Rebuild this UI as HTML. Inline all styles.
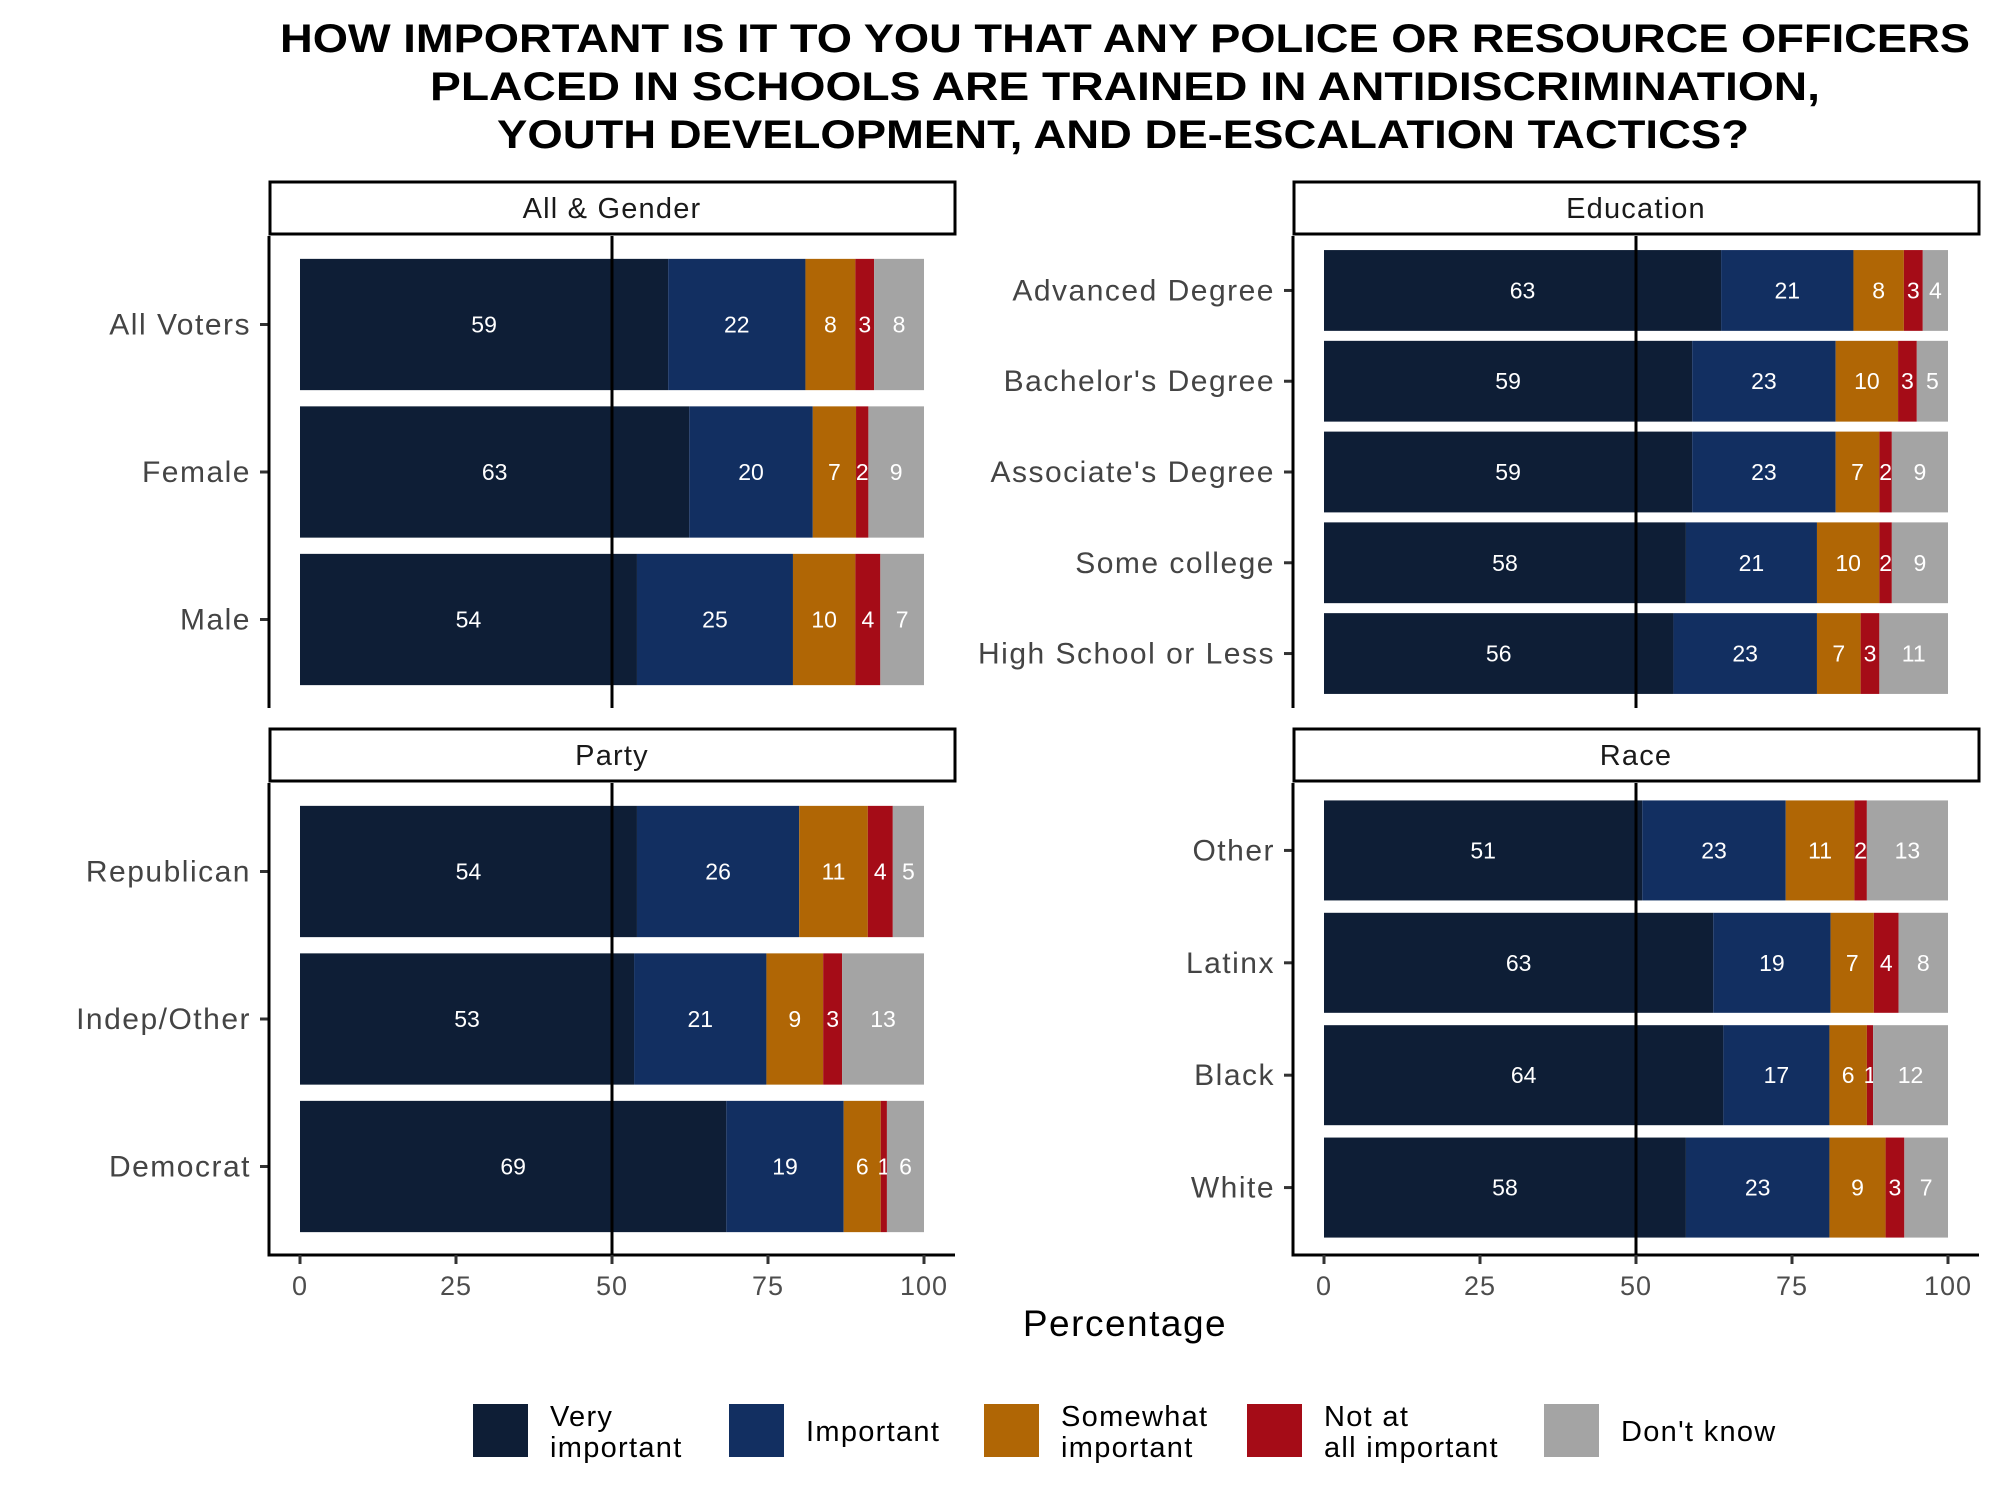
<!DOCTYPE html>
<html><head><meta charset="utf-8"><style>
html,body{margin:0;padding:0;background:#fff;}
svg{display:block;font-family:"Liberation Sans",sans-serif;}
</style></head><body>
<svg id="chart" width="1999" height="1500" viewBox="0 0 1999 1500" xmlns="http://www.w3.org/2000/svg">
<g font-weight="bold" font-size="40" text-anchor="middle" fill="#000">
<text x="1125" y="52" textLength="1690" lengthAdjust="spacingAndGlyphs">HOW IMPORTANT IS IT TO YOU THAT ANY POLICE OR RESOURCE OFFICERS</text>
<text x="1125" y="100" textLength="1390" lengthAdjust="spacingAndGlyphs">PLACED IN SCHOOLS ARE TRAINED IN ANTIDISCRIMINATION,</text>
<text x="1123" y="148" textLength="1252" lengthAdjust="spacingAndGlyphs">YOUTH DEVELOPMENT, AND DE-ESCALATION TACTICS?</text>
</g>
<g id="panels"></g>
<text x="1125" y="1336" font-size="37" letter-spacing="1.5" text-anchor="middle" fill="#000">Percentage</text>
<g id="legend"></g>
</svg>
<script>
const colors = ["#0e1e36","#122f61","#b06605","#a50c17","#a4a4a4"];
const legendLabels = [["Very","important"],["Important"],["Somewhat","important"],["Not at","all important"],["Don't know"]];
const ticks = [0,25,50,75,100];

const genderCats = ["All Voters","Female","Male"];
const genderVals = [[59,22,8,3,8],[63,20,7,2,9],[54,25,10,4,7]];
const partyCats = ["Republican","Indep/Other","Democrat"];
const partyVals = [[54,26,11,4,5],[53,21,9,3,13],[69,19,6,1,6]];
const eduCats = ["Advanced Degree","Bachelor's Degree","Associate's Degree","Some college","High School or Less"];
const eduVals = [[63,21,8,3,4],[59,23,10,3,5],[59,23,7,2,9],[58,21,10,2,9],[56,23,7,3,11]];
const raceCats = ["Other","Latinx","Black","White"];
const raceVals = [[51,23,11,2,13],[63,19,7,4,8],[64,17,6,1,12],[58,23,9,3,7]];

const NS="http://www.w3.org/2000/svg";
function mk(tag, attrs, parent){const e=document.createElementNS(NS,tag);for(const k in attrs)e.setAttribute(k,attrs[k]);parent.appendChild(e);return e;}
const panelsG=document.getElementById('panels');

function panel(title, cats, vals, left, top, bottom, showX){
  const axisX = left, x0 = left+31, x100 = left+655, right = left+686;
  const sx = v => x0 + (x100-x0)*v/100;
  const g = mk('g',{},panelsG);
  
  
  const stripTop = top-54;
  const strip = mk('rect',{x:axisX+1,y:stripTop,width:685,height:52,fill:'#fff',stroke:'#000','stroke-width':3},g);
  
  
  const st = mk('text',{x:axisX+343,y:stripTop+36,'font-size':29,'letter-spacing':1.2,'text-anchor':'middle',fill:'#1a1a1a'},g);
  st.textContent=title;
  
  
  const n=cats.length, step=(bottom-top)/(n+0.2), bh=step*0.89;
  cats.forEach((c,i)=>{
    const cy = top + step*(i+0.6);
    const tot = vals[i].reduce((a,b)=>a+b,0);
    let cum=0;
    vals[i].forEach((v,j)=>{
      const a=sx(cum/tot*100), b=sx((cum+v)/tot*100);
      const r=mk('rect',{x:a,y:cy-bh/2,width:b-a,height:bh,fill:colors[j]},g);
      
      
      const t=mk('text',{x:(a+b)/2,y:cy+8,'font-size':23,'text-anchor':'middle',fill:'#fff'},g);
      t.textContent=v;
      
      
      cum+=v;
    });
    const lab=mk('text',{x:axisX-18,y:cy+10,'font-size':30,'letter-spacing':1.5,'text-anchor':'end',fill:'#444'},g);
    lab.textContent=c;
    
    
    mk('line',{x1:axisX-9,x2:axisX,y1:cy,y2:cy,stroke:'#333','stroke-width':3},g);
  });
  const ref=mk('line',{x1:sx(50),x2:sx(50),y1:top,y2:bottom,stroke:'#000','stroke-width':3},g);
  
  
  mk('line',{x1:axisX,x2:axisX,y1:top,y2:bottom+(showX?1.5:0),stroke:'#000','stroke-width':3},g);
  if(showX){
    mk('line',{x1:axisX,x2:right,y1:bottom,y2:bottom,stroke:'#000','stroke-width':3},g);
    ticks.forEach(tk=>{
      mk('line',{x1:sx(tk),x2:sx(tk),y1:bottom,y2:bottom+9,stroke:'#333','stroke-width':3},g);
      const tl=mk('text',{x:sx(tk),y:bottom+40,'font-size':27,'letter-spacing':1,'text-anchor':'middle',fill:'#4d4d4d'},g);
      tl.textContent=tk;
      
      
    });
  }
}
panel("All & Gender",genderCats,genderVals,269,236,708,false);
panel("Party",partyCats,partyVals,269,783,1255,true);
panel("Education",eduCats,eduVals,1293,236,708,false);
panel("Race",raceCats,raceVals,1293,783,1255,true);

const lg=document.getElementById('legend');
const keyX=[473,729,984,1247,1544];
legendLabels.forEach((ls,i)=>{
  const gi=mk('g',{'font-size':29,'letter-spacing':1.3},lg);
  
  
  mk('rect',{x:keyX[i],y:1404,width:55,height:53,fill:colors[i]},gi);
  const tx=keyX[i]+77;
  if(ls.length===1){
    const t=mk('text',{x:tx,y:1441,fill:'#000'},gi);t.textContent=ls[0];
  } else {
    const t1=mk('text',{x:tx,y:1426,fill:'#000'},gi);t1.textContent=ls[0];
    const t2=mk('text',{x:tx,y:1457,fill:'#000'},gi);t2.textContent=ls[1];
  }
});
</script>
</body></html>
